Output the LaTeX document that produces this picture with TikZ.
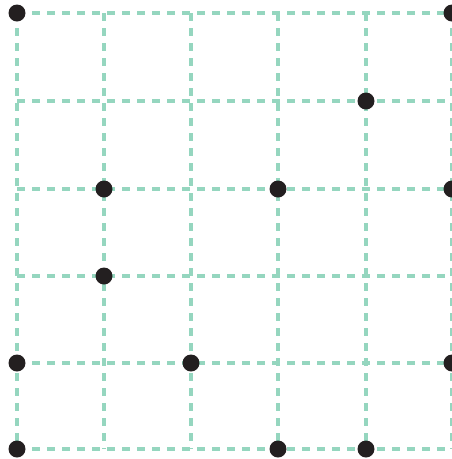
\documentclass[tikz,border=0pt]{standalone}
\begin{document}
\begin{tikzpicture}[x=1pt,y=-1pt,
  gridline/.style={draw=gridcol,line width=3.4pt,dash pattern=on 8pt off 7pt},
  dot/.style={circle,fill=dotcol,inner sep=0pt,minimum size=17pt}]
\definecolor{gridcol}{HTML}{95D6BF}
\definecolor{dotcol}{HTML}{231F20}
\useasboundingbox (0,0) rectangle (452,459);
\foreach \x in {17,104,191,278,366,452}{
  \draw[gridline] (\x,13) -- (\x,449);
}
\foreach \y in {13,101,189,276,363,449}{
  \draw[gridline] (17,\y) -- (452,\y);
}
\node[dot] (d1) at (17,13) {};
\node[dot] (d2) at (452,13) {};
\node[dot] (d3) at (366,101) {};
\node[dot] (d4) at (104,189) {};
\node[dot] (d5) at (278,189) {};
\node[dot] (d6) at (452,189) {};
\node[dot] (d7) at (104,276) {};
\node[dot] (d8) at (17,363) {};
\node[dot] (d9) at (191,363) {};
\node[dot] (d10) at (452,363) {};
\node[dot] (d11) at (17,449) {};
\node[dot] (d12) at (278,449) {};
\node[dot] (d13) at (366,449) {};
\end{tikzpicture}
\end{document}
